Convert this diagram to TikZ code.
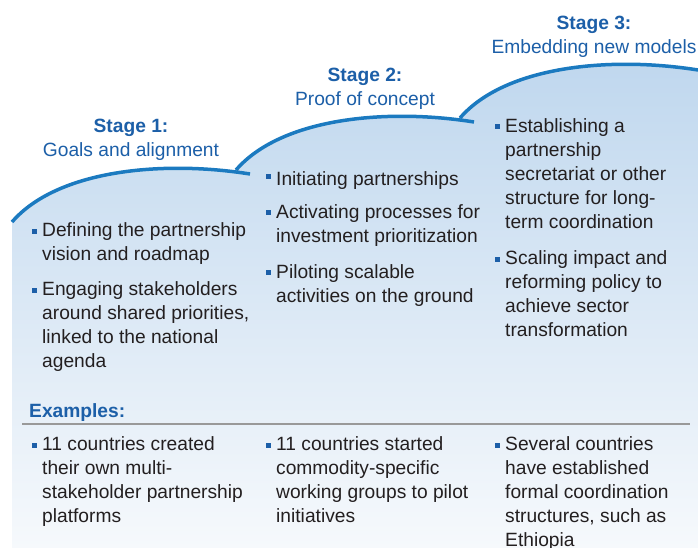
\documentclass[tikz,border=0pt]{standalone}
\usepackage{fontspec}
\setmainfont{Liberation Sans}
\usetikzlibrary{positioning}

\definecolor{ridgeblue}{HTML}{1B7AC0}
\definecolor{headblue}{HTML}{1C5FA8}
\definecolor{washtop}{HTML}{BFD7EE}
\definecolor{washbot}{HTML}{F6F9FC}
\definecolor{ink}{HTML}{231F20}

\begin{document}
\begin{tikzpicture}[
	x=1pt, y=-1pt,
	ridge/.style={draw=ridgeblue, line width=3.5pt},
	wash/.style={top color=washtop, bottom color=washbot},
	stage/.style={anchor=north, align=center, inner sep=0pt, text=headblue, font=\fontsize{19.2}{24}\selectfont, execute at begin node=\strut},
	item/.style={anchor=north west, align=left, inner sep=0pt, text=ink, font=\fontsize{19.2}{24}\selectfont, execute at begin node=\strut},
	bullet/.style={fill=headblue},
	rule/.style={draw=gray!80, line width=1.2pt}
	]
	
	\fill[white] (0,0) rectangle (698,548);
	\useasboundingbox (0,0) rectangle (698,548);
	
	% ======================
	% Stufenflaeche
	% ======================
	\fill[wash] (12,548) -- (12,222)
		.. controls +(45,-52) and +(-88,-14) .. (250,174) -- (236,170)
		.. controls +(45,-52) and +(-88,-14) .. (474,122) -- (460,118)
		.. controls +(45,-52) and +(-88,-14) .. (698,70) -- (698,548) -- cycle;
	
	% drei Boegen, je eine Stufe hoeher
	\foreach \i in {0,1,2}
		\draw[ridge, shift={(\i*224,-\i*52)}] (12,222) .. controls +(45,-52) and +(-88,-14) .. (250,174);
	
	% ======================
	% Ueberschriften
	% ======================
	\node[stage] (st1) at (131,118.5) {\textbf{Stage 1:}\\Goals and alignment};
	\node[stage] (st2) at (365,67.5) {\textbf{Stage 2:}\\Proof of concept};
	\node[stage] (st3) at (594,15.5) {\textbf{Stage 3:}\\Embedding new models};
	
	% ======================
	% Punkte je Stufe
	% ======================
	\node[item] (c1a) at (42,222.7) {Defining the partnership\\vision and roadmap};
	\node[item] (c1b) at (42,281.7) {Engaging stakeholders\\around shared priorities,\\linked to the national\\agenda};
	
	\node[item] (c2a) at (276,168.2) {Initiating partnerships};
	\node[item] (c2b) at (276,204.2) {Activating processes for\\investment prioritization};
	\node[item] (c2c) at (276,264.2) {Piloting scalable\\activities on the ground};
	
	\node[item] (c3a) at (505,118.7) {Establishing a\\partnership\\secretariat or other\\structure for long-\\term coordination};
	\node[item] (c3b) at (505,250.7) {Scaling impact and\\reforming policy to\\achieve sector\\transformation};
	
	% ======================
	% Beispiele
	% ======================
	\node[anchor=base west, inner sep=0pt, text=headblue, font=\fontsize{19.2}{24}\selectfont\bfseries] (ex) at (29,417) {Examples:};
	\draw[rule] (22,424) -- (690,424);
	
	\node[item] (e1) at (42,436.7) {11 countries created\\their own multi-\\stakeholder partnership\\platforms};
	\node[item] (e2) at (276,436.7) {11 countries started\\commodity-specific\\working groups to pilot\\initiatives};
	\node[item] (e3) at (505,436.7) {Several countries\\have established\\formal coordination\\structures, such as\\Ethiopia};
	
	% Aufzaehlungszeichen
	\foreach \n in {c1a,c1b,c2a,c2b,c2c,c3a,c3b,e1,e2,e3}
		\fill[bullet] ([xshift=-10pt, yshift=-5.8pt]\n.north west) rectangle ++(5,5);
	
\end{tikzpicture}
\end{document}
